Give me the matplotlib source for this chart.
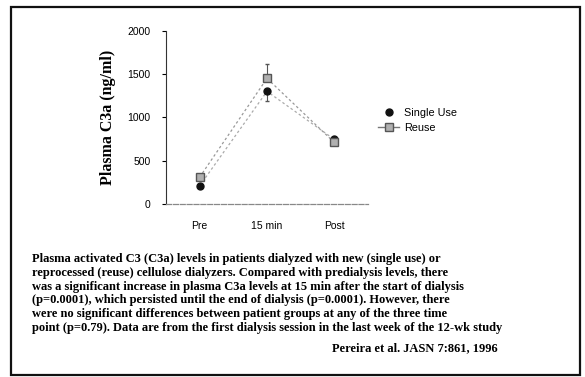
import matplotlib
matplotlib.use("Agg")
import matplotlib.pyplot as plt
import numpy as np
from matplotlib.patches import Rectangle

TIMES = ["Pre", "15 min", "Post"]
SINGLE = [210, 1300, 745]
SINGLE_ERR = [0, 115, 0]
REUSE = [310, 1450, 710]
REUSE_ERR = [0, 160, 0]
CAPTION = ("Plasma activated C3 (C3a) levels in patients dialyzed with new (single use) or\n"
           "reprocessed (reuse) cellulose dialyzers. Compared with predialysis levels, there\n"
           "was a significant increase in plasma C3a levels at 15 min after the start of dialysis\n"
           "(p=0.0001), which persisted until the end of dialysis (p=0.0001). However, there\n"
           "were no significant differences between patient groups at any of the three time\n"
           "point (p=0.79). Data are from the first dialysis session in the last week of the 12-wk study")
CITE = "Pereira et al. JASN 7:861, 1996"

fig = plt.figure(figsize=(5.85, 3.77), dpi=100)
fig.patches.append(Rectangle((11 / 585, 1 - 375 / 377), 569 / 585, 368 / 377,
                             transform=fig.transFigure, fill=False,
                             ec="#111111", lw=1.6))

ax = fig.add_axes([166 / 585, 1 - 204 / 377, 202 / 585, 173.3 / 377])
x = np.arange(len(TIMES))
ax.plot(x, SINGLE, color="#aaaaaa", lw=0.9, ls=(0, (2, 2)), zorder=1)
ax.plot(x, REUSE, color="#999999", lw=0.9, ls=(0, (2, 2)), zorder=1)
ax.errorbar(x, SINGLE, yerr=[SINGLE_ERR, [0, 0, 0]], fmt="none",
            ecolor="#555555", elinewidth=0.8, capsize=1.5, zorder=2)
ax.errorbar(x, REUSE, yerr=[[0, 0, 0], REUSE_ERR], fmt="none",
            ecolor="#555555", elinewidth=0.8, capsize=1.5, zorder=2)
ax.plot(x, SINGLE, "o", color="#111111", ms=5, ls="none", zorder=3,
        label="Single Use")
ax.plot(x, REUSE, "s", mfc="#b0b0b0", mec="#555555", mew=1, ms=6,
        color="#777777", ls="-", lw=0, zorder=4)
ax.plot([], [], marker="s", mfc="#b0b0b0", mec="#555555", mew=1, ms=6,
        color="#777777", lw=1, label="Reuse")

ax.set_xlim(-0.5, 2.5)
ax.set_ylim(0, 2000)
ax.set_yticks([0, 500, 1000, 1500, 2000])
ax.set_xticks(x)
ax.set_xticklabels(TIMES)
ax.tick_params(axis="y", length=3, width=0.8, labelsize=7.5, pad=8)
ax.tick_params(axis="x", length=0, labelsize=7.5, pad=12)
for t in ax.get_xticklabels() + ax.get_yticklabels():
    t.set_family("Liberation Sans")
for sp in ("top", "right"):
    ax.spines[sp].set_visible(False)
ax.spines["left"].set_linewidth(0.8)
ax.spines["left"].set_color("#333333")
ax.spines["bottom"].set_linewidth(0.9)
ax.spines["bottom"].set_color("#888888")
ax.spines["bottom"].set_linestyle((0, (4, 1.5)))

ax.set_ylabel("Plasma C3a (ng/ml)", family="Liberation Serif", weight="bold",
              fontsize=11.5, labelpad=8)

ax.legend(loc="upper left", bbox_to_anchor=(1.0, 0.61), frameon=False,
          prop={"family": "Liberation Sans", "size": 7.8},
          handlelength=2.0, handletextpad=0.4, labelspacing=0.45)

fig.text(32 / 585, 1 - 253 / 377, CAPTION, family="Liberation Serif",
         weight="bold", fontsize=9.0, va="top", ha="left", linespacing=1.2)
fig.text(498 / 585, 1 - 348 / 377, CITE, family="Liberation Serif",
         weight="bold", fontsize=9.0, va="center", ha="right")

fig.savefig("out.png", dpi=100)
